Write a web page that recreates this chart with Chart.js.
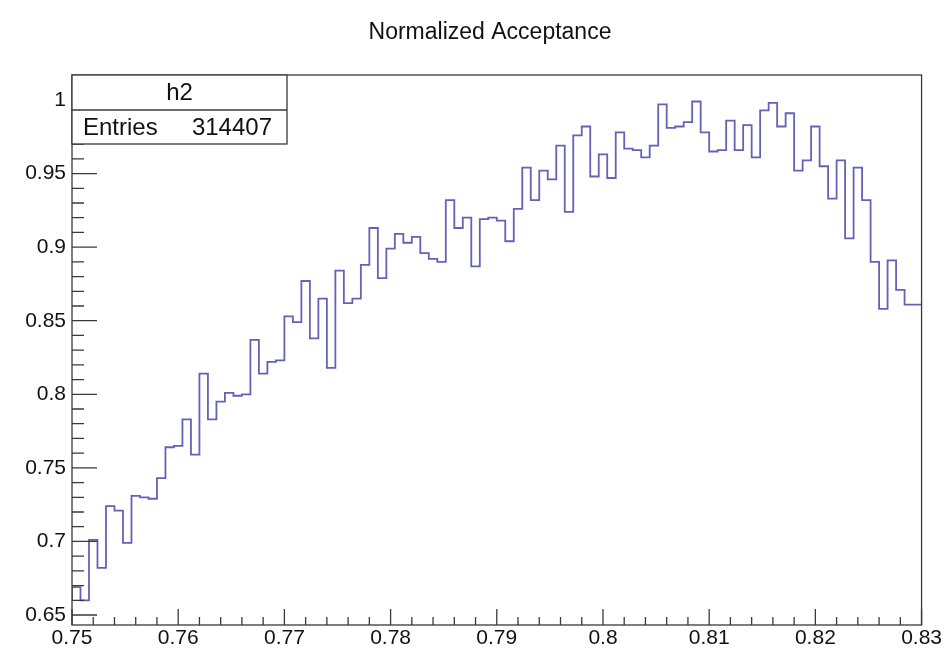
<!DOCTYPE html>
<html>
<head>
<meta charset="utf-8">
<title>Normalized Acceptance</title>
<script src="https://cdn.jsdelivr.net/npm/chart.js@4.4.1/dist/chart.umd.min.js"></script>
<style>
  html, body { margin: 0; padding: 0; background: #fff; }
  #wrap { width: 943px; height: 654px; }
</style>
</head>
<body>
<div id="wrap"><canvas id="accChart" width="943" height="654"></canvas></div>
<script>
// histogram h2: 100 bins from 0.75 to 0.83
const xMin = 0.75;
const xMax = 0.83;
const nBins = 100;

// bin contents (left to right)
const binContent = [
    0.660, 0.669, 0.660, 0.701, 0.682, 0.724, 0.721, 0.699, 0.731, 0.730,
    0.729, 0.743, 0.764, 0.765, 0.783, 0.759, 0.814, 0.783, 0.795, 0.801,
    0.799, 0.800, 0.837, 0.814, 0.822, 0.823, 0.853, 0.849, 0.877, 0.838,
    0.865, 0.818, 0.884, 0.862, 0.865, 0.888, 0.913, 0.879, 0.899, 0.909,
    0.903, 0.907, 0.896, 0.892, 0.890, 0.932, 0.913, 0.920, 0.887, 0.919,
    0.920, 0.918, 0.904, 0.926, 0.954, 0.932, 0.952, 0.946, 0.969, 0.924,
    0.976, 0.982, 0.948, 0.963, 0.947, 0.978, 0.967, 0.966, 0.961, 0.969,
    0.997, 0.981, 0.982, 0.985, 0.999, 0.978, 0.965, 0.966, 0.986, 0.966,
    0.983, 0.961, 0.993, 0.998, 0.982, 0.991, 0.952, 0.959, 0.982, 0.955,
    0.933, 0.959, 0.906, 0.954, 0.932, 0.890, 0.858, 0.891, 0.871, 0.861
];

const xTickValues = [0.75, 0.76, 0.77, 0.78, 0.79, 0.80, 0.81, 0.82, 0.83];
const yTickValues = [0.65, 0.70, 0.75, 0.80, 0.85, 0.90, 0.95, 1.00];

const chartTitle = 'Normalized Acceptance';
const histName = 'h2';
const histEntries = '314407';

const FONT = '"Liberation Sans", Arial, Helvetica, sans-serif';
const AXIS_COLOR = '#3a3a3a';
const LINE_COLOR = '#6262b6';

// build step points: left edge of each bin, plus the right edge of the last one
function buildSteps() {
    const w = (xMax - xMin) / nBins;
    const pts = binContent.map((v, i) => ({ x: xMin + i * w, y: v }));
    pts.push({ x: xMax, y: binContent[binContent.length - 1] });
    return pts;
}

// ROOT style frame, inward ticks, stats box and title
const rootDecor = {
    id: 'rootDecor',
    afterDatasetsDraw(chart) {
        const ctx = chart.ctx;
        const a = chart.chartArea;
        const xs = chart.scales.x;
        const ys = chart.scales.y;

        ctx.save();
        ctx.strokeStyle = AXIS_COLOR;
        ctx.lineWidth = 1.3;
        ctx.strokeRect(a.left, a.top, a.right - a.left, a.bottom - a.top);

        ctx.beginPath();
        // y ticks: major every 0.05, minor every 0.01
        for (let k = 65; k <= 101; k++) {
            const py = ys.getPixelForValue(k / 100);
            if (py < a.top || py > a.bottom) continue;
            const len = (k % 5 === 0) ? 25 : 12;
            ctx.moveTo(a.left, py);
            ctx.lineTo(a.left + len, py);
        }
        // x ticks: major every 0.01, minor every 0.002
        for (let k = 375; k <= 415; k++) {
            const px = xs.getPixelForValue(k / 500);
            const len = (k % 5 === 0) ? 16 : 8;
            ctx.moveTo(px, a.bottom);
            ctx.lineTo(px, a.bottom - len);
        }
        ctx.stroke();
        ctx.restore();
    },
    afterDraw(chart) {
        const ctx = chart.ctx;
        const a = chart.chartArea;

        // stats box
        const bx = a.left, by = a.top, bw = 215, bh = 69, mid = 35;
        ctx.save();
        ctx.fillStyle = '#fff';
        ctx.fillRect(bx, by, bw, bh);
        ctx.strokeStyle = AXIS_COLOR;
        ctx.lineWidth = 1.3;
        ctx.strokeRect(bx, by, bw, bh);
        ctx.beginPath();
        ctx.moveTo(bx, by + mid);
        ctx.lineTo(bx + bw, by + mid);
        ctx.stroke();

        ctx.fillStyle = '#111';
        ctx.textBaseline = 'middle';
        ctx.font = '24px ' + FONT;
        ctx.textAlign = 'center';
        ctx.fillText(histName, bx + bw / 2, by + mid / 2 + 1);
        ctx.textAlign = 'left';
        ctx.fillText('Entries', bx + 11, by + mid + (bh - mid) / 2 + 1);
        ctx.textAlign = 'right';
        ctx.fillText(histEntries, bx + bw - 15, by + mid + (bh - mid) / 2 + 1);

        // title
        ctx.font = '23px ' + FONT;
        ctx.textAlign = 'center';
        ctx.fillText(chartTitle, 490, 33);
        ctx.restore();
    }
};

function drawChart() {
    const canvas = document.getElementById('accChart');
    const ctx = canvas.getContext('2d');

    new Chart(ctx, {
        type: 'line',
        data: {
            datasets: [{
                label: histName,
                data: buildSteps(),
                stepped: 'after',
                borderColor: LINE_COLOR,
                borderWidth: 1.8,
                pointRadius: 0,
                fill: false,
                tension: 0
            }]
        },
        options: {
            responsive: false,
            animation: false,
            layout: { padding: { top: 75, right: 20, bottom: 0, left: 0 } },
            plugins: {
                legend: { display: false },
                tooltip: { enabled: false },
                title: { display: false }
            },
            scales: {
                x: {
                    type: 'linear',
                    min: xMin,
                    max: xMax,
                    border: { display: false },
                    grid: { display: false, drawTicks: false },
                    afterBuildTicks: s => { s.ticks = xTickValues.map(v => ({ value: v })); },
                    afterFit: s => { s.height = 29; },
                    ticks: {
                        padding: 1,
                        maxRotation: 0,
                        autoSkip: false,
                        color: '#111',
                        font: { family: FONT, size: 21 },
                        callback: v => String(+v.toFixed(2))
                    }
                },
                y: {
                    min: 0.6432,
                    max: 1.017,
                    border: { display: false },
                    grid: { display: false, drawTicks: false },
                    afterBuildTicks: s => { s.ticks = yTickValues.map(v => ({ value: v })); },
                    afterFit: s => { s.width = 72; },
                    ticks: {
                        padding: 6,
                        autoSkip: false,
                        color: '#111',
                        font: { family: FONT, size: 21 },
                        callback: v => String(+v.toFixed(2))
                    }
                }
            }
        },
        plugins: [rootDecor]
    });
}

window.addEventListener('load', drawChart);
</script>
</body>
</html>
